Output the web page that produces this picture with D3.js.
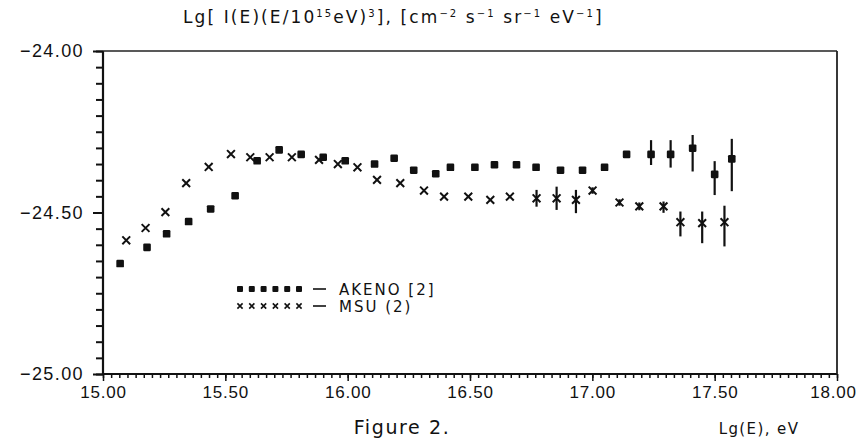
<!DOCTYPE html>
<html>
<head>
<meta charset="utf-8">
<script src="https://cdn.jsdelivr.net/npm/d3@7"></script>
<style>
  body { margin: 0; background: #fff; }
  svg { display: block; font-family: "DejaVu Sans", "Liberation Sans", sans-serif; }
</style>
</head>
<body>
<div id="chart"></div>
<script>
// AKENO [2] - filled squares
const akenoE = [15.07, 15.18, 15.26, 15.35, 15.44, 15.54, 15.63, 15.72, 15.81, 15.90,
  15.99, 16.11, 16.19, 16.27, 16.36, 16.42, 16.52, 16.60, 16.69, 16.77,
  16.87, 16.96, 17.05, 17.14, 17.24, 17.32, 17.41, 17.50, 17.57];
const akenoVal = [-24.658, -24.608, -24.566, -24.528, -24.489, -24.448, -24.340, -24.306, -24.320, -24.329,
  -24.340, -24.350, -24.332, -24.369, -24.380, -24.360, -24.360, -24.352, -24.352, -24.360,
  -24.369, -24.369, -24.360, -24.320, -24.320, -24.320, -24.301, -24.382, -24.334];
const akenoErrUp = [0, 0, 0, 0, 0, 0, 0, 0, 0, 0, 0, 0, 0, 0, 0, 0, 0, 0, 0, 0,
  0, 0, 0, 0, 0.044, 0.044, 0.041, 0.041, 0.062];
const akenoErrDown = [0, 0, 0, 0, 0, 0, 0, 0, 0, 0, 0, 0, 0, 0, 0, 0, 0, 0, 0, 0,
  0, 0, 0, 0, 0.033, 0.041, 0.072, 0.064, 0.10];

// MSU (2) - crosses
const msuE = [15.095, 15.174, 15.255, 15.34, 15.432, 15.523, 15.602, 15.681, 15.772, 15.883,
  15.96, 16.04, 16.12, 16.215, 16.312, 16.394, 16.493, 16.583, 16.663, 16.772,
  16.854, 16.933, 17.001, 17.111, 17.192, 17.291, 17.36, 17.449, 17.54];
const msuVal = [-24.586, -24.548, -24.499, -24.409, -24.359, -24.319, -24.329, -24.329, -24.329, -24.337,
  -24.350, -24.360, -24.399, -24.409, -24.432, -24.451, -24.451, -24.461, -24.451, -24.456,
  -24.456, -24.461, -24.432, -24.469, -24.481, -24.481, -24.530, -24.533, -24.530];
const msuErrUp = [0, 0, 0, 0, 0, 0, 0, 0, 0, 0, 0, 0, 0, 0, 0, 0, 0, 0, 0, 0.026,
  0.036, 0.031, 0.01, 0.01, 0.012, 0.015, 0.033, 0.036, 0.051];
const msuErrDown = [0, 0, 0, 0, 0, 0, 0, 0, 0, 0, 0, 0, 0, 0, 0, 0, 0, 0, 0, 0.026,
  0.036, 0.041, 0.01, 0.01, 0.012, 0.02, 0.044, 0.062, 0.075];

const xTicks = [15.0, 15.5, 16.0, 16.5, 17.0, 17.5, 18.0];
const yTicks = [-25.0, -24.5, -24.0];

const width = 861, height = 442;
const margin = { top: 51, right: 24, bottom: 68, left: 103 };

const svg = d3.select("#chart").append("svg")
  .attr("width", width)
  .attr("height", height);

const x = d3.scaleLinear().domain([15, 18]).range([margin.left, width - margin.right]);
const y = d3.scaleLinear().domain([-25, -24]).range([height - margin.bottom, margin.top]);

const fmt = d3.format(".2f");

// minor ticks
const xMinor = d3.range(0, 91).map(i => 15 + i / 30);
const yMinor = d3.range(0, 21).map(i => -25 + i * 0.05);

svg.append("g")
  .attr("transform", `translate(0,${y(-25)})`)
  .call(d3.axisBottom(x).tickValues(xMinor).tickSize(4).tickFormat(""))
  .call(g => g.select(".domain").remove())
  .selectAll("line").attr("stroke", "#111").attr("stroke-width", 1.5);

svg.append("g")
  .attr("transform", `translate(${x(15)},0)`)
  .call(d3.axisLeft(y).tickValues(yMinor).tickSize(7).tickFormat(""))
  .call(g => g.select(".domain").remove())
  .selectAll("line").attr("stroke", "#111").attr("stroke-width", 2);

// major ticks with labels
const xAxis = svg.append("g")
  .attr("transform", `translate(0,${y(-25)})`)
  .call(d3.axisBottom(x).tickValues(xTicks).tickSize(7).tickPadding(5).tickFormat(fmt));
xAxis.select(".domain").remove();
xAxis.selectAll("line").attr("stroke", "#111").attr("stroke-width", 1.5);
xAxis.selectAll("text").attr("font-size", 17).attr("letter-spacing", 0.8).attr("fill", "#111")
  .attr("dx", d => d === 18 ? -4 : 0);

const yAxis = svg.append("g")
  .attr("transform", `translate(${x(15)},0)`)
  .call(d3.axisLeft(y).tickValues(yTicks).tickSize(10).tickPadding(9).tickFormat(fmt));
yAxis.select(".domain").remove();
yAxis.selectAll("line").attr("stroke", "#111").attr("stroke-width", 2);
yAxis.selectAll("text").attr("font-size", 18).attr("letter-spacing", 1.4).attr("fill", "#111");

// frame
svg.append("line").attr("x1", x(15)).attr("x2", x(15)).attr("y1", y(-24)).attr("y2", y(-25))
  .attr("stroke", "#111").attr("stroke-width", 2.2);
svg.append("line").attr("x1", x(15)).attr("x2", x(18)).attr("y1", y(-25)).attr("y2", y(-25))
  .attr("stroke", "#111").attr("stroke-width", 2.2);
svg.append("line").attr("x1", x(15)).attr("x2", x(18)).attr("y1", y(-24)).attr("y2", y(-24))
  .attr("stroke", "#222").attr("stroke-width", 1.5);
svg.append("line").attr("x1", x(18)).attr("x2", x(18)).attr("y1", y(-24)).attr("y2", y(-25))
  .attr("stroke", "#222").attr("stroke-width", 1.8);

// error bars
function errorBars(E, v, up, down) {
  svg.append("g").selectAll("line")
    .data(E.map((e, i) => ({ e, v: v[i], up: up[i], down: down[i] })).filter(d => d.up > 0 || d.down > 0))
    .join("line")
    .attr("x1", d => x(d.e)).attr("x2", d => x(d.e))
    .attr("y1", d => y(d.v + d.up)).attr("y2", d => y(d.v - d.down))
    .attr("stroke", "#111").attr("stroke-width", 2.2);
}
errorBars(akenoE, akenoVal, akenoErrUp, akenoErrDown);
errorBars(msuE, msuVal, msuErrUp, msuErrDown);

// AKENO squares
svg.append("g").selectAll("rect")
  .data(akenoE.map((e, i) => ({ e, v: akenoVal[i] })))
  .join("rect")
  .attr("x", d => x(d.e) - 3.8).attr("y", d => y(d.v) - 3.8)
  .attr("width", 7.6).attr("height", 7.6)
  .attr("rx", 1.2)
  .attr("fill", "#111");

// MSU crosses
const cross = s => `M${-s},${-s}L${s},${s}M${-s},${s}L${s},${-s}`;
svg.append("g").selectAll("path")
  .data(msuE.map((e, i) => ({ e, v: msuVal[i] })))
  .join("path")
  .attr("transform", d => `translate(${x(d.e)},${y(d.v)})`)
  .attr("d", cross(3.9))
  .attr("stroke", "#111").attr("stroke-width", 2)
  .attr("fill", "none");

// legend
const legendSq = d3.range(6).map(i => 240 + i * 11.8);
svg.append("g").selectAll("rect")
  .data(legendSq).join("rect")
  .attr("x", d => d - 3).attr("y", 289 - 3)
  .attr("width", 6).attr("height", 6).attr("rx", 1)
  .attr("fill", "#111");
svg.append("g").selectAll("path")
  .data(legendSq).join("path")
  .attr("transform", d => `translate(${d},306)`)
  .attr("d", cross(2.6))
  .attr("stroke", "#111").attr("stroke-width", 1.6)
  .attr("fill", "none");
svg.append("line").attr("x1", 313).attr("x2", 326).attr("y1", 289).attr("y2", 289)
  .attr("stroke", "#111").attr("stroke-width", 1.6);
svg.append("line").attr("x1", 313).attr("x2", 326).attr("y1", 306).attr("y2", 306)
  .attr("stroke", "#111").attr("stroke-width", 1.6);
svg.append("text").attr("x", 339).attr("y", 295).attr("font-size", 15).attr("letter-spacing", 2)
  .attr("fill", "#111").text("AKENO [2]");
svg.append("text").attr("x", 339).attr("y", 312).attr("font-size", 15).attr("letter-spacing", 2)
  .attr("fill", "#111").text("MSU (2)");

// title
const title = svg.append("text").attr("x", 183).attr("y", 23).attr("font-size", 17)
  .attr("letter-spacing", 2.1).attr("fill", "#111");
const parts = [
  ["Lg[ I(E)(E/10", 0], ["15", 1], ["eV)", 0], ["3", 1], ["], [cm", 0], ["−2", 1],
  [" s", 0], ["−1", 1], [" sr", 0], ["−1", 1], [" eV", 0], ["−1", 1], ["]", 0]
];
parts.forEach(([t, sup], i) => {
  const ts = title.append("tspan").text(t);
  if (sup) ts.attr("font-size", 10).attr("dy", -6);
  else if (i > 0 && parts[i - 1][1]) ts.attr("dy", 6);
});

// bottom labels
svg.append("text").attr("x", 402).attr("y", 434).attr("text-anchor", "middle")
  .attr("font-size", 19).attr("letter-spacing", 1.6).attr("fill", "#111").text("Figure 2.");
svg.append("text").attr("x", 759).attr("y", 434).attr("text-anchor", "middle")
  .attr("font-size", 15).attr("letter-spacing", 1.4).attr("fill", "#111").text("Lg(E), eV");
</script>
</body>
</html>
